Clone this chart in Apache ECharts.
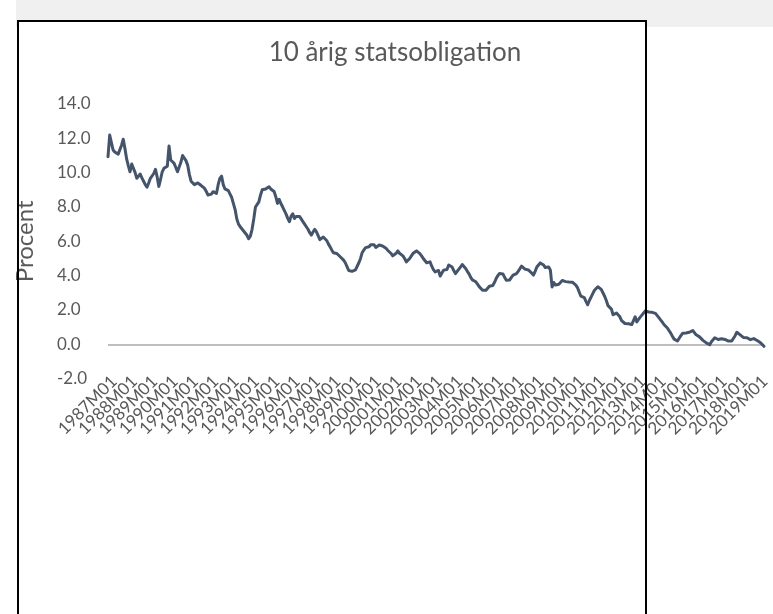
<!DOCTYPE html>
<html>
<head>
<meta charset="utf-8">
<title>10 årig statsobligation</title>
<script src="https://cdn.jsdelivr.net/npm/echarts@6/dist/echarts.min.js"></script>
<style>
  html, body { margin: 0; padding: 0; background: #ffffff; overflow: hidden; }
  #chart { width: 773px; height: 614px; }
</style>
</head>
<body>
<div id="chart"></div>
<script>
// Monthly periods, 1987M01 .. 2019M04
const firstYear = 1987;
const lastYear = 2019;
const lastMonth = 4;

// 10-year government bond yield, percent, one row per year
const yield10y = [
  10.93, 12.19, 11.75, 11.32, 11.20, 11.12, 11.08, 11.03, 11.60, 11.95, 11.40, 10.80, // 1987
  10.40, 10.05, 10.50, 10.60, 10.00, 9.67, 9.80, 9.92, 9.70, 9.50, 9.30, 9.15,        // 1988
  9.40, 9.67, 9.75, 9.95, 10.19, 9.75, 9.20, 9.60, 10.05, 10.25, 10.35, 10.38,        // 1989
  11.55, 10.74, 10.65, 10.54, 10.30, 10.05, 9.96, 10.60, 11.00, 10.85, 10.70, 10.44,  // 1990
  9.90, 9.50, 9.40, 9.30, 9.22, 9.40, 9.50, 9.25, 9.15, 9.08, 8.90, 8.70,             // 1991
  8.60, 8.75, 8.89, 8.82, 8.79, 9.30, 9.67, 9.80, 9.30, 9.05, 9.00, 8.95,             // 1992
  8.75, 8.55, 8.20, 7.85, 7.30, 7.00, 6.85, 6.75, 6.60, 6.50, 6.35, 6.15,             // 1993
  6.30, 6.70, 7.30, 8.00, 8.10, 8.30, 8.70, 9.00, 8.95, 9.05, 9.10, 9.18,             // 1994
  9.05, 8.94, 8.90, 8.60, 8.21, 8.44, 8.20, 8.01, 7.80, 7.60, 7.35, 7.14,             // 1995
  7.45, 7.60, 7.33, 7.45, 7.53, 7.45, 7.43, 7.15, 7.00, 6.85, 6.70, 6.50,             // 1996
  6.36, 6.55, 6.69, 6.55, 6.45, 6.10, 6.20, 6.25, 6.15, 6.05, 5.85, 5.68,             // 1997
  5.50, 5.33, 5.30, 5.29, 5.20, 5.10, 5.00, 4.90, 4.75, 4.65, 4.30, 4.20,             // 1998
  4.25, 4.36, 4.33, 4.36, 4.75, 5.00, 5.35, 5.50, 5.63, 5.60, 5.68, 5.80,             // 1999
  5.91, 5.80, 5.64, 5.70, 5.78, 5.75, 5.73, 5.72, 5.60, 5.48, 5.40, 5.29,             // 2000
  5.15, 5.06, 5.30, 5.44, 5.30, 5.29, 5.15, 5.00, 4.80, 4.75, 5.00, 5.15,             // 2001
  5.30, 5.35, 5.44, 5.40, 5.28, 5.15, 5.00, 4.90, 4.75, 4.85, 4.80, 4.55,             // 2002
  4.35, 4.22, 4.33, 4.30, 3.97, 4.15, 4.32, 4.34, 4.36, 4.62, 4.58, 4.50,             // 2003
  4.30, 4.12, 4.25, 4.38, 4.50, 4.65, 4.55, 4.42, 4.25, 4.10, 3.90, 3.75,             // 2004
  3.70, 3.64, 3.50, 3.36, 3.25, 3.15, 3.15, 3.15, 3.25, 3.38, 3.38, 3.42,             // 2005
  3.60, 3.83, 4.00, 4.12, 4.12, 4.10, 3.90, 3.73, 3.73, 3.75, 3.90, 4.03,             // 2006
  4.08, 4.12, 4.25, 4.40, 4.55, 4.48, 4.38, 4.35, 4.33, 4.32, 4.15, 4.03,             // 2007
  4.25, 4.50, 4.62, 4.74, 4.80, 4.62, 4.47, 4.52, 4.50, 4.32, 3.34, 3.60,             // 2008
  3.45, 3.40, 3.50, 3.60, 3.72, 3.70, 3.65, 3.63, 3.63, 3.63, 3.62, 3.55,             // 2009
  3.45, 3.30, 3.05, 2.80, 2.72, 2.72, 2.50, 2.30, 2.55, 2.75, 2.95, 3.15,             // 2010
  3.25, 3.35, 3.35, 3.20, 3.00, 2.80, 2.55, 2.25, 2.15, 2.05, 1.72, 1.83,             // 2011
  1.82, 1.79, 1.60, 1.38, 1.30, 1.21, 1.24, 1.20, 1.12, 1.15, 1.22, 1.60,             // 2012
  1.30, 1.45, 1.58, 1.70, 1.82, 1.95, 1.98, 1.88, 1.83, 1.86, 1.89, 1.80,             // 2013
  1.69, 1.55, 1.42, 1.30, 1.15, 1.05, 0.95, 0.85, 0.65, 0.47, 0.30, 0.20,             // 2014
  0.19, 0.35, 0.50, 0.64, 0.66, 0.66, 0.66, 0.70, 0.74, 0.80, 0.70, 0.55,             // 2015
  0.50, 0.43, 0.33, 0.23, 0.15, 0.08, 0.00, -0.03, 0.15, 0.25, 0.38, 0.35,            // 2016
  0.28, 0.30, 0.32, 0.33, 0.28, 0.26, 0.19, 0.20, 0.19, 0.19, 0.50, 0.70,             // 2017
  0.62, 0.55, 0.45, 0.39, 0.39, 0.38, 0.32, 0.27, 0.30, 0.33, 0.30, 0.22,             // 2018
  0.16, 0.09, 0.02, -0.12                                                             // 2019
];

// Value axis ticks
const yTicks = [-2, 0, 2, 4, 6, 8, 10, 12, 14];

const periods = [];
for (let y = firstYear; y <= lastYear; y++) {
  const endM = (y === lastYear) ? lastMonth : 12;
  for (let m = 1; m <= endM; m++) {
    periods.push(y + 'M' + (m < 10 ? '0' + m : m));
  }
}

const textGrey = '#595959';
const fontStack = 'Lato, "Open Sans", "Liberation Sans", sans-serif';

// only the 0.0 level gets a visible rule
const ruleColors = yTicks.map(function (t) { return t === 0 ? '#bfbfbf' : 'rgba(0,0,0,0)'; });

const chart = echarts.init(document.getElementById('chart'), null, { renderer: 'canvas' });

chart.setOption({
  backgroundColor: '#ffffff',
  animation: false,
  graphic: [
    { type: 'rect', z: -20, silent: true,
      shape: { x: 16, y: 0, width: 757, height: 27 },
      style: { fill: '#f0f0f0' } },
    { type: 'rect', z: -19, silent: true,
      shape: { x: 17, y: 20, width: 630, height: 600 },
      style: { fill: '#ffffff' } },
    { type: 'rect', z: 100, silent: true,
      shape: { x: 18, y: 21, width: 628, height: 610 },
      style: { fill: 'none', stroke: '#000000', lineWidth: 2 } },
    { type: 'text', z: 50, silent: true, x: 395, y: 53,
      style: { text: '10 årig statsobligation', fill: textGrey,
               font: '26px ' + fontStack, align: 'center', verticalAlign: 'middle' } }
  ],
  grid: { left: 108, right: 0, top: 104, bottom: 235.4, containLabel: false },
  xAxis: {
    type: 'category',
    data: periods,
    boundaryGap: false,
    axisLine: { show: false, onZero: false },
    axisTick: { show: false },
    splitLine: { show: false },
    axisLabel: {
      // every period gets a slot; only January of each year carries text
      interval: 0,
      formatter: function (value, index) { return index % 12 === 0 ? value : ''; },
      rotate: 45,
      margin: -6,
      verticalAlign: 'top',
      color: textGrey,
      fontFamily: fontStack,
      fontSize: 17
    }
  },
  yAxis: {
    type: 'value',
    min: yTicks[0],
    max: yTicks[yTicks.length - 1],
    interval: 2,
    name: 'Procent',
    nameLocation: 'middle',
    nameRotate: 90,
    nameGap: 71,
    nameTextStyle: { color: textGrey, fontFamily: fontStack, fontSize: 24 },
    axisLine: { show: false },
    axisTick: { show: false },
    splitLine: { show: true, lineStyle: { color: ruleColors, width: 2 } },
    axisLabel: {
      align: 'left',
      margin: 51,
      color: textGrey,
      fontFamily: fontStack,
      fontSize: 17,
      formatter: function (v) { return v.toFixed(1); }
    }
  },
  series: [{
    type: 'line',
    data: yield10y,
    showSymbol: false,
    symbol: 'none',
    lineStyle: { color: '#44546a', width: 3, join: 'round', cap: 'round' },
    clip: true
  }]
});
</script>
</body>
</html>
